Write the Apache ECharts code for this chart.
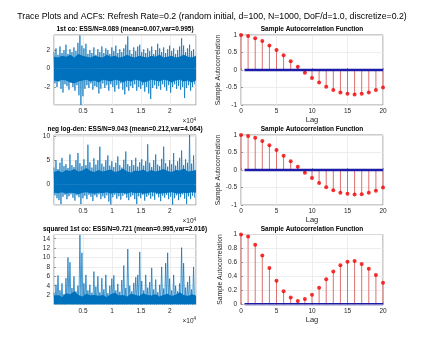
<!DOCTYPE html>
<html>
<head>
<meta charset="utf-8">
<script src="https://cdn.jsdelivr.net/npm/echarts@6/dist/echarts.min.js"></script>
<style>
  html, body { margin: 0; padding: 0; background: #fff; }
  #main { width: 423px; height: 342px; }
</style>
</head>
<body>
<div id="main"></div>
<script>
// trace plots: per-pixel-column upper / lower extremes
var sampleStep = 172; // samples per zigzag point
var trace1Hi = [1.8, 2.2, 1.5, 2.4, 1.7, 2.0, 2.6, 1.6, 2.1, 1.8, 2.3, 1.9, 2.8, 3.6, 2.5, 2.2, 2.7, 1.6, 2.0, 1.7,
  2.3, 1.5, 2.1, 1.8, 2.4, 1.7, 2.2, 2.0, 1.6, 2.3, 1.9, 2.5, 1.7, 2.1, 1.8, 2.2, 2.6, 3.5, 2.0, 1.6,
  2.3, 1.9, 2.4, 2.6, 1.8, 2.1, 1.7, 2.2, 1.9, 2.4, 1.6, 2.0, 2.7, 2.2, 1.8, 2.3, 1.7, 2.1, 2.5, 1.9,
  2.2, 1.6, 2.0, 2.4, 3.3, 2.5, 1.8, 2.2, 2.6, 1.9, 2.1];
var trace1Lo = [-1.6, -2.0, -1.4, -2.2, -2.6, -1.7, -1.9, -2.3, -1.5, -2.0, -2.4, -1.8, -2.9, -3.95, -3.0, -2.2, -1.8, -2.1, -1.6, -2.3,
  -1.9, -2.0, -2.7, -2.2, -1.6, -2.1, -1.8, -2.4, -1.7, -2.0, -2.5, -1.8, -2.2, -1.6, -2.3, -2.8, -2.0, -2.4, -1.9, -2.1,
  -1.7, -2.4, -2.0, -2.2, -1.8, -2.5, -2.0, -2.7, -3.3, -2.1, -1.8, -2.2, -1.9, -2.3, -1.7, -2.0, -2.4, -1.8, -2.6, -2.0,
  -1.7, -2.2, -1.9, -2.3, -2.0, -3.2, -2.1, -1.8, -2.4, -2.0, -1.7];

var trace2Hi = [3.5, 5.0, 3.2, 4.5, 5.5, 3.8, 4.2, 3.4, 6.2, 4.0, 3.6, 5.0, 6.5, 4.4, 3.8, 5.2, 4.0, 8.2, 4.6, 3.5,
  5.4, 4.1, 5.0, 7.8, 4.3, 3.7, 5.0, 6.0, 3.9, 4.8, 3.6, 4.5, 5.8, 4.0, 3.5, 5.1, 6.8, 4.2, 3.8, 5.0,
  4.0, 5.5, 3.7, 4.6, 5.2, 3.9, 4.8, 8.3, 4.5, 3.6, 5.0, 6.2, 4.1, 3.8, 5.3, 7.8, 4.4, 3.7, 5.0, 4.2,
  6.5, 3.9, 4.8, 5.5, 7.0, 4.0, 5.2, 4.5, 10.2, 4.3, 6.0];
var trace2Lo = [-2.2, -2.8, -3.2, -4.0, -2.5, -2.1, -3.0, -2.4, -2.0, -2.7, -3.3, -2.2, -2.6, -4.0, -2.8, -2.3, -3.0, -2.1, -2.5, -3.4,
  -2.2, -2.6, -2.0, -3.0, -2.4, -2.8, -2.2, -3.5, -4.1, -2.6, -2.1, -2.9, -2.4, -3.1, -2.3, -2.0, -2.7, -3.2, -2.5, -2.2,
  -3.0, -4.0, -2.4, -2.8, -2.1, -3.3, -2.5, -2.2, -2.9, -2.4, -3.1, -2.0, -2.6, -3.4, -2.3, -2.7, -2.1, -3.0, -2.5, -4.1,
  -2.8, -2.2, -3.2, -2.6, -2.0, -2.9, -4.0, -2.4, -3.0, -2.3, -2.7];

var trace3Hi = [2.5, 4.2, 6.2, 3.0, 4.5, 2.2, 5.6, 10.0, 9.0, 3.5, 6.0, 2.8, 4.0, 14.8, 11.0, 4.5, 6.3, 3.0, 4.2, 2.5,
  7.0, 3.8, 6.0, 2.6, 5.6, 3.2, 6.3, 2.4, 4.0, 5.5, 6.2, 3.0, 4.4, 2.7, 5.2, 8.3, 3.5, 11.8, 4.0, 2.8,
  4.6, 5.8, 6.3, 11.2, 5.0, 3.0, 6.3, 3.6, 4.8, 7.8, 3.2, 5.3, 2.6, 4.2, 8.0, 3.4, 8.8, 11.0, 5.5, 3.0,
  6.3, 4.0, 2.8, 4.5, 12.1, 8.8, 3.6, 4.8, 6.0, 3.2, 8.0];
var trace3Lo = [0.03, 0.01, 0.05, 0.02, 0.04, 0.01, 0.03, 0.06, 0.02, 0.01, 0.04, 0.02, 0.03, 0.01, 0.05, 0.02, 0.01, 0.03, 0.04, 0.02,
  0.01, 0.05, 0.02, 0.03, 0.01, 0.04, 0.02, 0.01, 0.03, 0.02, 0.05, 0.01, 0.02, 0.04, 0.03, 0.01, 0.02, 0.05, 0.03, 0.01,
  0.04, 0.02, 0.01, 0.03, 0.02, 0.05, 0.01, 0.03, 0.02, 0.04, 0.01, 0.02, 0.03, 0.05, 0.01, 0.02, 0.04, 0.03, 0.01, 0.02,
  0.05, 0.03, 0.01, 0.02, 0.04, 0.01, 0.03, 0.02, 0.05, 0.01, 0.03];

// dense dark core of each trace (every ~4 px)
var coreStep = 700;
var trace1CoreHi = [1.3, 1.2, 1.4, 1.3, 1.5, 1.2, 1.6, 1.4, 1.3, 1.2, 1.4, 1.3, 1.2, 1.5, 1.3, 1.4, 1.2, 1.3, 1.5, 1.3,
  1.2, 1.4, 1.3, 1.2, 1.4, 1.3, 1.5, 1.2, 1.3, 1.4, 1.2, 1.3, 1.5, 1.3, 1.2, 1.4];
var trace1CoreLo = [-1.3, -1.4, -1.2, -1.3, -1.5, -1.6, -1.4, -1.3, -1.2, -1.4, -1.3, -1.5, -1.2, -1.3, -1.4, -1.2, -1.3, -1.5, -1.3, -1.4,
  -1.2, -1.3, -1.5, -1.4, -1.2, -1.3, -1.4, -1.2, -1.3, -1.5, -1.3, -1.2, -1.4, -1.3, -1.5, -1.3];
var trace2CoreHi = [2.6, 2.9, 2.5, 3.0, 2.8, 3.2, 2.7, 2.9, 3.4, 2.8, 2.6, 3.0, 2.7, 2.9, 3.1, 2.6, 2.8, 3.3, 2.7, 2.5,
  2.9, 2.8, 3.1, 2.6, 3.0, 2.7, 2.9, 3.2, 2.8, 2.6, 3.0, 2.9, 3.3, 2.7, 2.8, 3.0];
var trace2CoreLo = [-1.7, -1.8, -1.6, -1.9, -1.7, -1.8, -2.0, -1.7, -1.6, -1.8, -1.9, -1.7, -1.8, -1.6, -1.9, -1.7, -1.8, -1.7, -1.9, -1.6,
  -1.8, -1.7, -1.9, -1.8, -1.6, -1.7, -1.9, -1.8, -1.7, -1.6, -1.8, -1.9, -1.7, -1.8, -1.6, -1.7];
var trace3CoreHi = [1.8, 2.0, 1.6, 2.4, 2.2, 2.8, 2.0, 1.7, 2.3, 1.9, 2.1, 1.8, 2.0, 1.6, 2.2, 2.5, 1.9, 2.0, 1.7, 2.3,
  2.1, 1.8, 2.4, 2.0, 1.9, 2.2, 1.7, 2.0, 2.3, 1.8, 2.1, 2.6, 2.0, 1.8, 2.2, 1.9];
var trace3CoreLo = [];

// sample autocorrelation, lags 0..20
var lags = [0, 1, 2, 3, 4, 5, 6, 7, 8, 9, 10, 11, 12, 13, 14, 15, 16, 17, 18, 19, 20];
var acf1 = [1, 0.97, 0.91, 0.83, 0.70, 0.57, 0.42, 0.25, 0.09, -0.08, -0.23, -0.36, -0.48, -0.57, -0.64, -0.68, -0.70, -0.68, -0.64, -0.57, -0.50];
var acf2 = [1, 0.97, 0.92, 0.83, 0.71, 0.57, 0.41, 0.25, 0.09, -0.08, -0.23, -0.37, -0.49, -0.58, -0.65, -0.68, -0.70, -0.69, -0.65, -0.59, -0.50];
var acf3 = [1, 0.97, 0.855, 0.70, 0.52, 0.34, 0.19, 0.10, 0.05, 0.08, 0.14, 0.24, 0.36, 0.47, 0.56, 0.61, 0.62, 0.58, 0.51, 0.42, 0.31];
var boundLags = [0.5, 20];
var acfBounds = [0.013, -0.013];

var traceTitles = [
  '1st co: ESS/N=9.089 (mean=0.007,var=0.995)',
  'neg log-den: ESS/N=9.043 (mean=0.212,var=4.064)',
  'squared 1st co: ESS/N=0.721 (mean=0.995,var=2.016)'
];
var mainTitle = 'Trace Plots and ACFs: Refresh Rate=0.2 (random initial, d=100, N=1000, DoF/d=1.0, discretize=0.2)';

var chart = echarts.init(document.getElementById('main'), null, { renderer: 'canvas' });

var font = 'Liberation Sans, Arial, Helvetica, sans-serif';
var txt = '#262626';
var box = '#808080';
var gridCol = '#e8e8e8';
var blue = '#0072BD';

var rowTops = [35, 135, 234.5];
var rowH = 70;
var traceHi = [trace1Hi, trace2Hi, trace3Hi];
var traceLo = [trace1Lo, trace2Lo, trace3Lo];
var coreHi = [trace1CoreHi, trace2CoreHi, trace3CoreHi];
var coreLo = [trace1CoreLo, trace2CoreLo, trace3CoreLo];
var traceY = [
  { min: -3.95, max: 3.65, split: 4 },
  { min: -4.2, max: 10.2, split: 3 },
  { min: 0, max: 14.9, split: 7 }
];
var acfs = [acf1, acf2, acf3];
var acfY = [
  { min: -1, max: 1, interval: 0.5 },
  { min: -1, max: 1, interval: 0.5 },
  { min: 0, max: 1, interval: 0.2 }
];

function zigzag(hi, lo) {
  var out = [];
  for (var j = 0; j < hi.length; j++) {
    out.push([2 * j * sampleStep, hi[j]]);
    out.push([(2 * j + 1) * sampleStep, lo[j]]);
  }
  return out;
}

function coreSeries(vals, gi) {
  return {
    type: 'line', xAxisIndex: gi, yAxisIndex: gi, symbol: 'none',
    data: vals.map(function (v, k) { return [k * coreStep, v]; }),
    lineStyle: { width: 0 }, areaStyle: { color: blue, opacity: 1 }, animation: false
  };
}

var grids = [], xAxes = [], yAxes = [], series = [], titles = [], graphics = [];

titles.push({
  text: mainTitle, left: 212, top: 12, textAlign: 'center', padding: 0,
  textStyle: { fontFamily: font, fontSize: 8.75, fontWeight: 'normal', color: '#000' }
});

var tickStyle = { show: true, inside: true, length: 2, lineStyle: { color: box, width: 0.8 } };

for (var r = 0; r < 3; r++) {
  // ---- trace (left)
  var gi = grids.length;
  grids.push({ left: 54, width: 142, top: rowTops[r], height: rowH, show: true,
    borderColor: box, borderWidth: 0.8, backgroundColor: '#fff' });
  xAxes.push({
    type: 'value', gridIndex: gi, min: 0, max: 24500, interval: 5000,
    axisLine: { show: false }, axisTick: tickStyle,
    axisLabel: { fontFamily: font, fontSize: 6.5, color: txt, margin: 3, showMinLabel: false, showMaxLabel: false,
      formatter: function (v) { return String(v / 10000); } },
    splitLine: { show: true, lineStyle: { color: gridCol, width: 0.8 } }
  });
  yAxes.push({
    type: 'value', gridIndex: gi, min: traceY[r].min, max: traceY[r].max, splitNumber: traceY[r].split,
    axisLine: { show: false }, axisTick: tickStyle,
    axisLabel: { fontFamily: font, fontSize: 6.5, color: txt, margin: 4, showMinLabel: false, showMaxLabel: false },
    splitLine: { show: true, lineStyle: { color: gridCol, width: 0.8 } }
  });
  series.push(coreSeries(coreHi[r], gi));
  if (coreLo[r].length) series.push(coreSeries(coreLo[r], gi));
  series.push({
    type: 'line', xAxisIndex: gi, yAxisIndex: gi, data: zigzag(traceHi[r], traceLo[r]),
    showSymbol: false, symbol: 'none', lineStyle: { color: blue, width: 0.9, opacity: 0.8 }, animation: false
  });
  titles.push({
    text: traceTitles[r], left: 125, top: rowTops[r] - 9, textAlign: 'center', padding: 0,
    textStyle: { fontFamily: font, fontSize: 6.5, fontWeight: 'bold', color: '#000' }
  });
  graphics.push({
    type: 'text', right: 423 - 196, top: rowTops[r] + 82,
    style: { text: '×10{s|4}', fontFamily: font, fontSize: 6.5, fill: txt,
      rich: { s: { fontSize: 4.5, verticalAlign: 'top', padding: [0, 0, 4, 0], fill: txt } } }
  });

  // ---- ACF (right)
  var ai = grids.length;
  grids.push({ left: 241, width: 142, top: rowTops[r], height: rowH, show: true,
    borderColor: box, borderWidth: 0.8, backgroundColor: '#fff' });
  xAxes.push({
    type: 'value', gridIndex: ai, min: 0, max: 20, interval: 5,
    name: 'Lag', nameLocation: 'middle', nameGap: 11,
    nameTextStyle: { fontFamily: font, fontSize: 7.5, color: txt },
    axisLine: { show: false }, axisTick: tickStyle,
    axisLabel: { fontFamily: font, fontSize: 6.5, color: txt, margin: 3 },
    splitLine: { show: true, lineStyle: { color: gridCol, width: 0.8 } }
  });
  yAxes.push({
    type: 'value', gridIndex: ai, min: acfY[r].min, max: acfY[r].max, interval: acfY[r].interval,
    name: 'Sample Autocorrelation', nameLocation: 'middle', nameGap: 14, nameRotate: 90,
    nameTextStyle: { fontFamily: font, fontSize: 6.8, color: txt },
    axisLine: { show: false }, axisTick: tickStyle,
    axisLabel: { fontFamily: font, fontSize: 6.5, color: txt, margin: 4 },
    splitLine: { show: true, lineStyle: { color: gridCol, width: 0.8 } }
  });
  var pts = lags.map(function (l, i) { return [l, acfs[r][i]]; });
  series.push({
    type: 'bar', xAxisIndex: ai, yAxisIndex: ai, data: pts, barWidth: 1,
    itemStyle: { color: '#de7070' }, animation: false
  });
  series.push({
    type: 'scatter', xAxisIndex: ai, yAxisIndex: ai, data: pts, symbolSize: 4,
    itemStyle: { color: '#f00000' }, animation: false
  });
  acfBounds.forEach(function (b) {
    series.push({
      type: 'line', xAxisIndex: ai, yAxisIndex: ai, symbol: 'none',
      data: boundLags.map(function (l) { return [l, b]; }),
      lineStyle: { color: '#1c1ca8', width: 1.4 }, animation: false
    });
  });
  titles.push({
    text: 'Sample Autocorrelation Function', left: 312, top: rowTops[r] - 9, textAlign: 'center', padding: 0,
    textStyle: { fontFamily: font, fontSize: 6.5, fontWeight: 'bold', color: '#000' }
  });
}

chart.setOption({
  backgroundColor: '#fff',
  animation: false,
  title: titles,
  grid: grids,
  xAxis: xAxes,
  yAxis: yAxes,
  series: series,
  graphic: graphics
});
</script>
</body>
</html>
